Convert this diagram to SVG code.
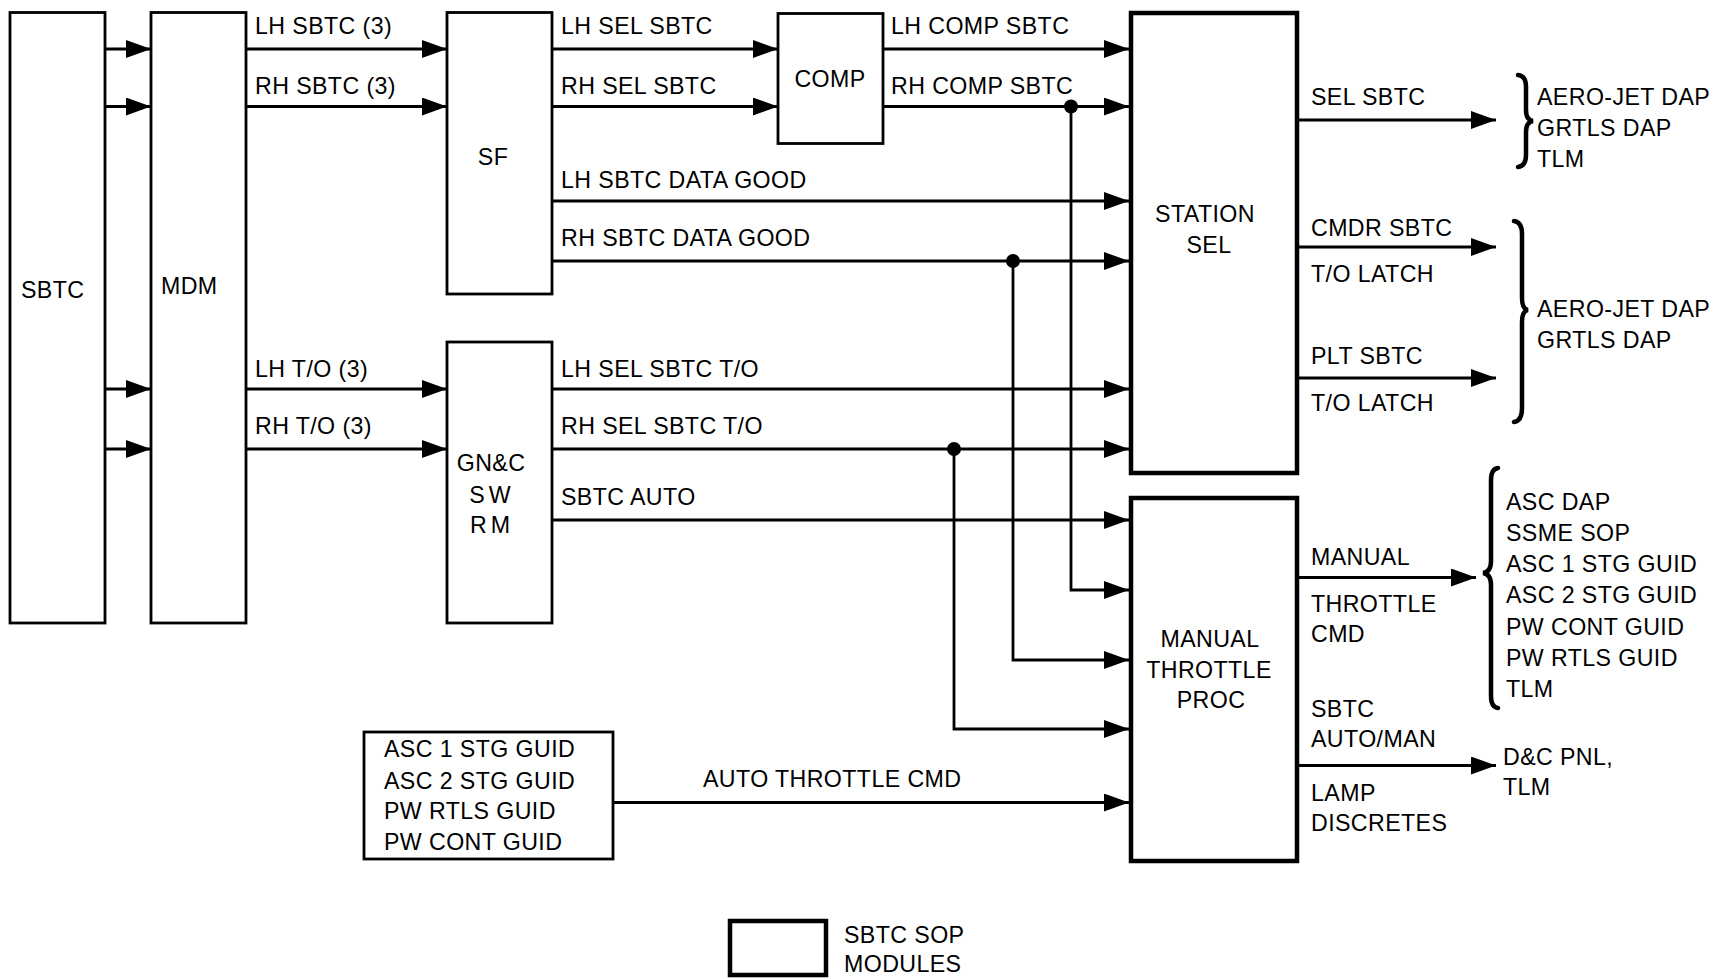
<svg xmlns="http://www.w3.org/2000/svg" width="1713" height="979" viewBox="0 0 1713 979">
<defs>
<marker id="arr" markerUnits="userSpaceOnUse" markerWidth="26" markerHeight="18" refX="25" refY="9" orient="auto"><path d="M0,0 L25,9 L0,18 z" fill="#000"/></marker>
<style>
text{font-family:"Liberation Sans",Arial,sans-serif;font-size:23.2px;fill:#000;letter-spacing:0.4px}
.m{text-anchor:middle}
.b{fill:#fff;stroke:#000;stroke-width:2.8}
.bt{fill:#fff;stroke:#000;stroke-width:4.5}
.c{fill:none;stroke:#000;stroke-width:2.8;marker-end:url(#arr)}
.l{fill:none;stroke:#000;stroke-width:2.8}
.br{fill:none;stroke:#000;stroke-width:4.5;stroke-linecap:round}
</style>
</defs>
<rect width="1713" height="979" fill="#fff"/>
<g id="connectors">
<path class="c" d="M105 49 H151"/>
<path class="c" d="M105 106.5 H151"/>
<path class="c" d="M105 389 H151"/>
<path class="c" d="M105 449 H151"/>
<path class="c" d="M246 49 H447"/>
<path class="c" d="M246 106.5 H447"/>
<path class="c" d="M246 389 H447"/>
<path class="c" d="M246 449 H447"/>
<path class="c" d="M552 49 H778"/>
<path class="c" d="M552 106.5 H778"/>
<path class="c" d="M883 49 H1129"/>
<path class="c" d="M883 106.5 H1129"/>
<path class="c" d="M552 201 H1129"/>
<path class="c" d="M552 261 H1129"/>
<path class="c" d="M552 389 H1129"/>
<path class="c" d="M552 449 H1129"/>
<path class="c" d="M552 520 H1129"/>
<path class="c" d="M1071 106.5 V590 H1129"/>
<path class="c" d="M1013 261 V660 H1129"/>
<path class="c" d="M954 449 V729 H1129"/>
<path class="c" d="M613 802.5 H1129"/>
<circle cx="1071" cy="106.5" r="7"/>
<circle cx="1013" cy="261" r="7"/>
<circle cx="954" cy="449" r="7"/>
<path class="c" d="M1297 120 H1496"/>
<path class="c" d="M1297 247 H1496"/>
<path class="c" d="M1297 378 H1496"/>
<path class="c" d="M1297 577.5 H1476"/>
<path class="c" d="M1297 765.5 H1496"/>
<path class="br" d="M1518 75 Q1526 76 1526 86 L1526 110 Q1526 120 1533 121 Q1526 122 1526 132 L1526 155 Q1526 166 1518 167"/>
<path class="br" d="M1514 221 Q1522 222 1522 234 L1522 298 Q1522 309 1528 310 Q1522 311 1522 322 L1522 408 Q1522 421 1514 422"/>
<path class="br" d="M1498 468 Q1491 469 1491 480 L1491 561 Q1491 572 1483 573 Q1491 574 1491 585 L1491 696 Q1491 707 1498 708"/>
</g>
<g id="labels">
<text x="255" y="34">LH SBTC (3)</text>
<text x="255" y="94">RH SBTC (3)</text>
<text x="255" y="377">LH T/O (3)</text>
<text x="255" y="434">RH T/O (3)</text>
<text x="561" y="34">LH SEL SBTC</text>
<text x="561" y="94">RH SEL SBTC</text>
<text x="891" y="34">LH COMP SBTC</text>
<text x="891" y="94">RH COMP SBTC</text>
<text x="561" y="188">LH SBTC DATA GOOD</text>
<text x="561" y="246">RH SBTC DATA GOOD</text>
<text x="561" y="377">LH SEL SBTC T/O</text>
<text x="561" y="434">RH SEL SBTC T/O</text>
<text x="561" y="505">SBTC AUTO</text>
<text x="703" y="787">AUTO THROTTLE CMD</text>
<text x="1311" y="105">SEL SBTC</text>
<text x="1311" y="236">CMDR SBTC</text>
<text x="1311" y="282">T/O LATCH</text>
<text x="1311" y="364">PLT SBTC</text>
<text x="1311" y="411">T/O LATCH</text>
<text x="1311" y="565">MANUAL</text>
<text x="1311" y="612">THROTTLE</text>
<text x="1311" y="642">CMD</text>
<text x="1311" y="717">SBTC</text>
<text x="1311" y="747">AUTO/MAN</text>
<text x="1311" y="801">LAMP</text>
<text x="1311" y="831">DISCRETES</text>
<text x="1537" y="105">AERO-JET DAP</text>
<text x="1537" y="136">GRTLS DAP</text>
<text x="1537" y="167">TLM</text>
<text x="1537" y="317">AERO-JET DAP</text>
<text x="1537" y="348">GRTLS DAP</text>
<text x="1506" y="510">ASC DAP</text>
<text x="1506" y="541">SSME SOP</text>
<text x="1506" y="572">ASC 1 STG GUID</text>
<text x="1506" y="603">ASC 2 STG GUID</text>
<text x="1506" y="635">PW CONT GUID</text>
<text x="1506" y="666">PW RTLS GUID</text>
<text x="1506" y="697">TLM</text>
<text x="1503" y="765">D&amp;C PNL,</text>
<text x="1503" y="795">TLM</text>
</g>
<g id="sbtc"><rect class="b" x="10" y="12.5" width="95" height="610.5"/><text x="21" y="298">SBTC</text></g>
<g id="mdm"><rect class="b" x="151" y="12.5" width="95" height="610.5"/><text x="161" y="294">MDM</text></g>
<g id="sf"><rect class="b" x="447" y="12.5" width="105" height="281.5"/><text class="m" x="493" y="165">SF</text></g>
<g id="comp"><rect class="b" x="778" y="13.5" width="105" height="130"/><text class="m" x="830" y="87">COMP</text></g>
<g id="gnc"><rect class="b" x="447" y="342" width="105" height="281"/><text class="m" x="491" y="471">GN&amp;C</text><text class="m" x="492" y="503" style="letter-spacing:4px">SW</text><text class="m" x="492" y="533" style="letter-spacing:4px">RM</text></g>
<g id="station-sel"><rect class="bt" x="1131" y="13" width="166" height="460"/><text class="m" x="1205" y="222">STATION</text><text class="m" x="1209" y="253">SEL</text></g>
<g id="manual-throttle-proc"><rect class="bt" x="1131" y="498" width="166" height="363"/><text class="m" x="1210" y="647">MANUAL</text><text class="m" x="1209" y="678">THROTTLE</text><text class="m" x="1211" y="708">PROC</text></g>
<g id="guidance"><rect class="b" x="364" y="732" width="249" height="127"/><text x="384" y="757">ASC 1 STG GUID</text><text x="384" y="789">ASC 2 STG GUID</text><text x="384" y="819">PW RTLS GUID</text><text x="384" y="850">PW CONT GUID</text></g>
<g id="legend"><rect class="bt" x="730" y="921" width="96" height="54"/><text x="844" y="943">SBTC SOP</text><text x="844" y="972">MODULES</text></g>
</svg>
